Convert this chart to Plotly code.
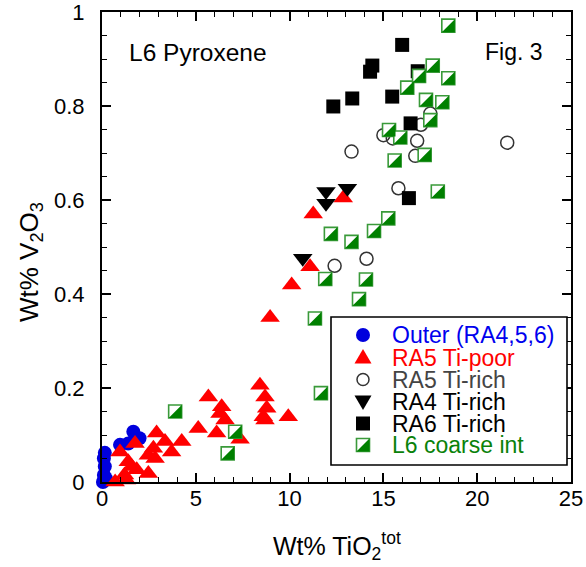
import plotly.graph_objects as go

# ---------------- data ----------------
outer_x = [0.05, 0.1, 0.15, 0.1, 0.15, 0.2, 0.96, 1.4, 1.67, 2.0]
outer_y = [0.0, 0.015, 0.033, 0.05, 0.062, 0.008, 0.079, 0.082, 0.107, 0.093]

ra5poor_x = [0.7, 1.3, 1.2, 1.85, 2.47, 1.58, 1.4, 0.96, 1.76, 2.47, 2.83, 2.74, 3.71,
             2.91, 3.36, 4.25, 5.13, 5.67, 6.38, 6.29, 6.56, 6.11, 7.36, 8.42, 8.69,
             8.78, 8.6, 8.69, 9.93, 8.96, 10.11, 11.09, 11.26, 12.86]
ra5poor_y = [0.0, 0.004, 0.015, 0.026, 0.018, 0.033, 0.043, 0.064, 0.082, 0.057, 0.05,
             0.072, 0.064, 0.104, 0.086, 0.086, 0.114, 0.181, 0.16, 0.146, 0.132, 0.104,
             0.091, 0.206, 0.181, 0.157, 0.139, 0.132, 0.139, 0.35, 0.419, 0.458, 0.57,
             0.604]

ra5rich_x = [12.4, 14.1, 13.3, 15.0, 15.5, 15.8, 16.7, 16.8, 17.0, 17.5, 21.6]
ra5rich_y = [0.46, 0.475, 0.703, 0.738, 0.731, 0.625, 0.694, 0.726, 0.76, 0.784, 0.722]

ra4rich_x = [10.7, 11.94, 11.94, 13.08]
ra4rich_y = [0.476, 0.618, 0.593, 0.625]

ra6rich_x = [12.33, 13.34, 14.29, 14.41, 15.47, 16.0, 16.45, 16.83, 16.36]
ra6rich_y = [0.799, 0.816, 0.873, 0.886, 0.82, 0.93, 0.763, 0.874, 0.604]

l6_x = [3.9, 6.7, 7.1, 11.35, 11.67, 11.9, 12.2, 13.3, 13.7, 14.07, 14.5, 15.26, 15.3,
        15.6, 15.9, 16.27, 16.9, 17.2, 17.27, 17.5, 17.63, 17.9, 18.14, 18.46, 18.46]
l6_y = [0.15, 0.061, 0.107, 0.348, 0.189, 0.432, 0.528, 0.511, 0.389, 0.431, 0.534,
        0.561, 0.749, 0.684, 0.733, 0.839, 0.864, 0.696, 0.813, 0.77, 0.886, 0.618,
        0.808, 0.859, 0.971]

series_names = ["Outer (RA4,5,6)", "RA5 Ti-poor", "RA5 Ti-rich", "RA4 Ti-rich",
                "RA6 Ti-rich", "L6 coarse int"]
series_colors = ["#0000ee", "#ff0000", "#444444", "#000000", "#000000", "#0a820a"]

x_ticks = [0, 5, 10, 15, 20, 25]
y_ticks = [0, 0.2, 0.4, 0.6, 0.8, 1]

FONT = "Liberation Sans, Arial, Helvetica, sans-serif"
GREEN = "#008000"
GREEN_LINE = "#3a9a3a"
BLUE = "#0000dd"

fig = go.Figure()

fig.add_trace(go.Scatter(x=outer_x, y=outer_y, mode="markers", cliponaxis=False,
                         marker=dict(symbol="circle", size=14, color=BLUE,
                                     line=dict(width=0)), showlegend=False))
fig.add_trace(go.Scatter(x=ra5poor_x, y=ra5poor_y, mode="markers", cliponaxis=False,
                         marker=dict(symbol="triangle-up", size=17, color="#ff0000",
                                     line=dict(width=0)), showlegend=False))
fig.add_trace(go.Scatter(x=ra5rich_x, y=ra5rich_y, mode="markers", cliponaxis=False,
                         marker=dict(symbol="circle-open", size=13, color="#333333",
                                     line=dict(width=1.5)), showlegend=False))
fig.add_trace(go.Scatter(x=ra4rich_x, y=ra4rich_y, mode="markers", cliponaxis=False,
                         marker=dict(symbol="triangle-down", size=17, color="#000000",
                                     line=dict(width=0)), showlegend=False))
fig.add_trace(go.Scatter(x=ra6rich_x, y=ra6rich_y, mode="markers", cliponaxis=False,
                         marker=dict(symbol="square", size=14, color="#000000",
                                     line=dict(width=0)), showlegend=False))
# L6: white square with green border ...
SQ = 13
fig.add_trace(go.Scatter(x=l6_x, y=l6_y, mode="markers", cliponaxis=False,
                         marker=dict(symbol="square", size=SQ, color="white",
                                     line=dict(width=1.6, color=GREEN_LINE)),
                         showlegend=False))
# ... and its lower-right half filled (drawn on overlaid axes with the same scale,
# nudged so the right-angle triangle sits in the square's lower-right corner)
TRI = SQ / 0.9
shift_px = 0.3 * TRI / 2
PLOT_W, PLOT_H = 469, 470
dx = shift_px * 25 / PLOT_W
dy = shift_px * 1 / PLOT_H
fig.add_trace(go.Scatter(x=l6_x, y=l6_y, mode="markers", cliponaxis=False,
                         xaxis="x2", yaxis="y2",
                         marker=dict(symbol="triangle-se", size=TRI, color=GREEN,
                                     line=dict(width=0)),
                         showlegend=False))

axis_common = dict(showline=True, linewidth=2, linecolor="black", mirror="ticks",
                   ticks="inside", ticklen=9, tickwidth=1.5, tickcolor="black",
                   showgrid=False, zeroline=False, automargin=False,
                   ticklabeloverflow="allow",
                   tickfont=dict(family=FONT, size=22, color="black"))

fig.update_layout(
    width=586, height=567,
    margin=dict(l=102, r=15, t=12, b=85),
    paper_bgcolor="white", plot_bgcolor="white",
    showlegend=False,
    xaxis=dict(range=[0, 25], tickvals=x_ticks, ticklabelstandoff=-4,
               minor=dict(dtick=1, ticklen=5, tickwidth=1.2, tickcolor="black", ticks="inside"),
               **axis_common),
    yaxis=dict(range=[0, 1], tickvals=y_ticks, ticklabelstandoff=11,
               minor=dict(dtick=0.05, ticklen=5, tickwidth=1.2, tickcolor="black", ticks="inside"),
               **axis_common),
    xaxis2=dict(range=[0 - dx, 25 - dx], overlaying="x", visible=False, anchor="y2"),
    yaxis2=dict(range=[0 + dy, 1 + dy], overlaying="y", visible=False, anchor="x2"),
)

def px_to_paper_x(px):
    return (px - 102) / PLOT_W

def px_to_paper_y(py):
    return (482 - py) / PLOT_H

# axis titles
fig.add_annotation(x=px_to_paper_x(337), y=px_to_paper_y(546), xref="paper", yref="paper",
                   text="Wt% TiO<sub>2</sub><sup>tot</sup>", showarrow=False,
                   xanchor="center", yanchor="middle",
                   font=dict(family=FONT, size=25, color="black"))
fig.add_annotation(x=px_to_paper_x(30), y=px_to_paper_y(262), xref="paper", yref="paper",
                   text="Wt% V<sub>2</sub>O<sub>3</sub>", showarrow=False, textangle=-90,
                   xanchor="center", yanchor="middle",
                   font=dict(family=FONT, size=26, color="black"))

# titles inside the plot
fig.add_annotation(x=px_to_paper_x(127), y=px_to_paper_y(52), xref="paper", yref="paper",
                   text="L6 Pyroxene", showarrow=False, xanchor="left", yanchor="middle",
                   font=dict(family=FONT, size=24.5, color="black"))
fig.add_annotation(x=px_to_paper_x(545), y=px_to_paper_y(52), xref="paper", yref="paper",
                   text="Fig. 3", showarrow=False, xanchor="right", yanchor="middle",
                   font=dict(family=FONT, size=23, color="black"))

# ---------------- hand-drawn legend (layout decoration) ----------------
box_x0, box_x1 = px_to_paper_x(331), px_to_paper_x(567)
box_y0, box_y1 = px_to_paper_y(465), px_to_paper_y(317)
fig.add_shape(type="rect", xref="paper", yref="paper", x0=box_x0, x1=box_x1,
              y0=box_y0, y1=box_y1, line=dict(color="black", width=1.6),
              fillcolor="white", layer="above")

row_py = [335, 357.5, 379.5, 401.5, 423.5, 445]
gx = px_to_paper_x(363)
tx = px_to_paper_x(390)

def glyph(yp, **kw):
    d = dict(xref="paper", yref="paper", xsizemode="pixel", ysizemode="pixel",
             xanchor=gx, yanchor=yp, layer="above")
    d.update(kw)
    fig.add_shape(**d)

ys = [px_to_paper_y(p) for p in row_py]
glyph(ys[0], type="circle", x0=-7, x1=7, y0=-7, y1=7, fillcolor=BLUE,
      line=dict(width=0))
glyph(ys[1], type="path", path="M-8.5,-6 L8.5,-6 L0,8.5 Z", fillcolor="#ff0000",
      line=dict(width=0))
glyph(ys[2], type="circle", x0=-6, x1=6, y0=-6, y1=6, fillcolor="white",
      line=dict(width=1.5, color="#333333"))
glyph(ys[3], type="path", path="M-8.5,6 L8.5,6 L0,-8.5 Z", fillcolor="#000000",
      line=dict(width=0))
glyph(ys[4], type="rect", x0=-7, x1=7, y0=-7, y1=7, fillcolor="#000000",
      line=dict(width=0))
glyph(ys[5], type="rect", x0=-6.5, x1=6.5, y0=-6.5, y1=6.5, fillcolor="white",
      line=dict(width=1.6, color=GREEN_LINE))
glyph(ys[5], type="path", path="M6.5,6.5 L6.5,-6.5 L-6.5,-6.5 Z", fillcolor=GREEN,
      line=dict(width=0))

for name, col, yp in zip(series_names, series_colors, ys):
    fig.add_annotation(x=tx, y=yp, xref="paper", yref="paper", text=name,
                       showarrow=False, xanchor="left", yanchor="middle",
                       font=dict(family=FONT, size=23, color=col))

# remove the browser's default 8px page margin so the figure sits at the page origin
fig.write_html("out.html", config={"displayModeBar": False},
               post_script="document.body.style.margin='0px';")
